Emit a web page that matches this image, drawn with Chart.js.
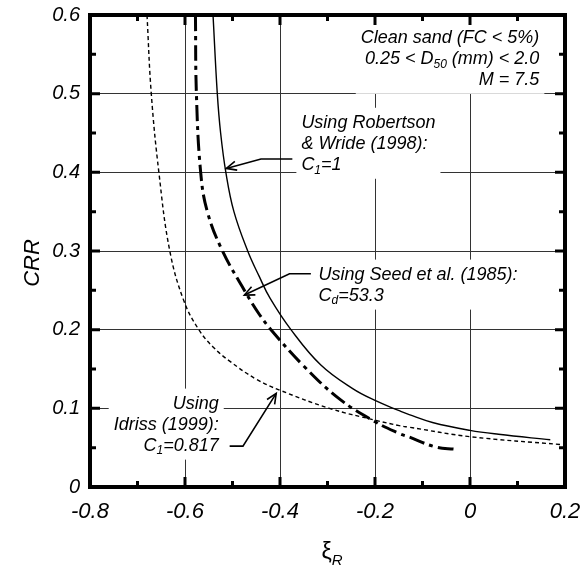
<!DOCTYPE html>
<html>
<head>
<meta charset="utf-8">
<script src="https://cdn.jsdelivr.net/npm/chart.js@4.4.1/dist/chart.umd.min.js"></script>
<style>
  html, body { margin: 0; padding: 0; background: #fff; }
  canvas { display: block; }
</style>
</head>
<body>
<canvas id="crr-chart" width="584" height="572"></canvas>
<script>
// Curve readings (xi_R, CRR)
const robertsonXi  = [-0.541, -0.532, -0.525, -0.514, -0.497, -0.468, -0.444, -0.421, -0.377, -0.314, -0.247, -0.200, -0.149, -0.128, -0.079, 0.000, 0.060, 0.169];
const robertsonCrr = [ 0.600,  0.500,  0.450,  0.400,  0.350,  0.300,  0.268,  0.240,  0.200,  0.155,  0.125,  0.110,  0.097,  0.092,  0.082, 0.072, 0.067, 0.060];

const seedXi  = [-0.578, -0.576, -0.567, -0.553, -0.521, -0.473, -0.443, -0.419, -0.352, -0.275, -0.200, -0.149, -0.128, -0.073, -0.031];
const seedCrr = [ 0.600,  0.500,  0.400,  0.350,  0.300,  0.248,  0.219,  0.200,  0.155,  0.112,  0.083,  0.068,  0.0635, 0.051,  0.048];

const idrissXi  = [-0.680, -0.671, -0.655, -0.632, -0.602, -0.571, -0.541, -0.506, -0.450, -0.400, -0.296, -0.200, -0.149, -0.128, 0.000, 0.190];
const idrissCrr = [ 0.600,  0.500,  0.400,  0.300,  0.236,  0.200,  0.178,  0.160,  0.137,  0.123,  0.100,  0.085,  0.078,  0.076, 0.064, 0.054];

const xTicks = [-0.8, -0.6, -0.4, -0.2, 0, 0.2];
const yTicks = [0, 0.1, 0.2, 0.3, 0.4, 0.5, 0.6];

const FONT = "'Liberation Sans', Arial, Helvetica, sans-serif";

const toPoints = (xs, ys) => xs.map((x, i) => ({ x: x, y: ys[i] }));

// text blocks: [text, isSubscript] runs per line
const notes = [
    { x: 0.146, y: 0.571, align: 'right', toTop: true, lines: [
        [['Clean sand (FC < 5%)']],
        [['0.25 < D'], ['50', 1], [' (mm) < 2.0']],
        [['M = 7.5']]
    ]},
    { x: -0.355, y: 0.463, align: 'left', lines: [
        [['Using Robertson']],
        [['& Wride (1998):']],
        [['C'], ['1', 1], ['=1']]
    ]},
    { x: -0.319, y: 0.270, align: 'left', lines: [
        [['Using Seed et al. (1985):']],
        [['C'], ['d', 1], ['=53.3']]
    ]},
    { x: -0.529, y: 0.106, align: 'right', lines: [
        [['Using']],
        [['Idriss (1999):']],
        [['C'], ['1', 1], ['=0.817']]
    ]}
];

// arrow paths, last point is the tip
const arrows = [
    [[-0.374, 0.417], [-0.440, 0.417], [-0.513, 0.405]],
    [[-0.335, 0.271], [-0.380, 0.271], [-0.475, 0.244]],
    [[-0.506, 0.052], [-0.478, 0.052], [-0.408, 0.119]]
];

function runWidth(ctx, runs, size) {
    let w = 0;
    runs.forEach(r => {
        ctx.font = 'italic ' + (r[1] ? Math.round(size * 0.68) : size) + 'px ' + FONT;
        w += ctx.measureText(r[0]).width;
    });
    return w;
}

function drawRuns(ctx, runs, x, y, size) {
    runs.forEach(r => {
        const s = r[1] ? Math.round(size * 0.68) : size;
        ctx.font = 'italic ' + s + 'px ' + FONT;
        ctx.fillText(r[0], x, r[1] ? y + size * 0.3 : y);
        x += ctx.measureText(r[0]).width;
    });
}

// drop the automatic label padding so the plot area sits where the layout says
const noPad = s => { s.paddingLeft = 0; s.paddingRight = 0; s.paddingTop = 0; s.paddingBottom = 0; };

const annotate = {
    id: 'annotate',
    beforeDatasetsDraw(chart) {
        const ctx = chart.ctx;
        const xs = chart.scales.x, ys = chart.scales.y;
        const area = chart.chartArea;
        const size = 18, lh = 21;
        ctx.save();
        ctx.textBaseline = 'middle';
        ctx.fillStyle = '#000';
        notes.forEach(n => {
            const ax = xs.getPixelForValue(n.x);
            const ay = ys.getPixelForValue(n.y);
            const widths = n.lines.map(l => runWidth(ctx, l, size));
            const maxW = Math.max(...widths);
            const left = n.align === 'right' ? ax - maxW : ax;
            let top = ay - 11 - 4;
            if (n.toTop) top = area.top;
            const bottom = ay + (n.lines.length - 1) * lh + 14;
            ctx.fillStyle = '#fff';
            ctx.fillRect(left - 5, top, maxW + 10, bottom - top);
            ctx.fillStyle = '#000';
            n.lines.forEach((l, i) => {
                const lx = n.align === 'right' ? ax - widths[i] : ax;
                drawRuns(ctx, l, lx, ay + i * lh, size);
            });
        });
        ctx.restore();
    },
    afterDatasetsDraw(chart) {
        const ctx = chart.ctx;
        const xs = chart.scales.x, ys = chart.scales.y;
        const area = chart.chartArea;
        ctx.save();

        // arrows
        ctx.strokeStyle = '#000';
        ctx.lineWidth = 1.6;
        arrows.forEach(a => {
            const pts = a.map(p => [xs.getPixelForValue(p[0]), ys.getPixelForValue(p[1])]);
            ctx.beginPath();
            pts.forEach((p, i) => i ? ctx.lineTo(p[0], p[1]) : ctx.moveTo(p[0], p[1]));
            ctx.stroke();
            const tip = pts[pts.length - 1], prev = pts[pts.length - 2];
            const ang = Math.atan2(tip[1] - prev[1], tip[0] - prev[0]);
            ctx.beginPath();
            ctx.moveTo(tip[0] - 11 * Math.cos(ang - 0.42), tip[1] - 11 * Math.sin(ang - 0.42));
            ctx.lineTo(tip[0], tip[1]);
            ctx.lineTo(tip[0] - 11 * Math.cos(ang + 0.42), tip[1] - 11 * Math.sin(ang + 0.42));
            ctx.stroke();
        });

        // inward tick marks on all four sides
        ctx.lineWidth = 3;
        ctx.lineCap = 'butt';
        for (let v = -0.8; v <= 0.2001; v += 0.1) {
            const px = xs.getPixelForValue(v);
            const major = Math.abs(Math.round(v * 10)) % 2 === 0;
            const len = major ? 10 : 6;
            ctx.beginPath();
            ctx.moveTo(px, area.bottom); ctx.lineTo(px, area.bottom - len);
            ctx.moveTo(px, area.top); ctx.lineTo(px, area.top + len);
            ctx.stroke();
        }
        for (let v = 0; v <= 0.6001; v += 0.05) {
            const py = ys.getPixelForValue(v);
            const major = Math.abs(Math.round(v * 20)) % 2 === 0;
            const len = major ? 10 : 6;
            ctx.beginPath();
            ctx.moveTo(area.left, py); ctx.lineTo(area.left + len, py);
            ctx.moveTo(area.right, py); ctx.lineTo(area.right - len, py);
            ctx.stroke();
        }

        // frame
        ctx.lineWidth = 4;
        ctx.strokeRect(area.left, area.top, area.right - area.left, area.bottom - area.top);

        // axis titles
        ctx.fillStyle = '#000';
        ctx.textAlign = 'center';
        ctx.textBaseline = 'middle';
        ctx.save();
        ctx.translate(33, 263);
        ctx.rotate(-Math.PI / 2);
        ctx.font = 'italic 22px ' + FONT;
        ctx.fillText('CRR', 0, 0);
        ctx.restore();

        ctx.textAlign = 'left';
        ctx.font = '23px ' + FONT;
        const xiW = ctx.measureText('ξ').width;
        ctx.font = 'italic 15px ' + FONT;
        const rW = ctx.measureText('R').width;
        const cx = 332 - (xiW + rW) / 2;
        ctx.font = '23px ' + FONT;
        ctx.fillText('ξ', cx, 553);
        ctx.font = 'italic 15px ' + FONT;
        ctx.fillText('R', cx + xiW, 561);
        ctx.restore();
    }
};

const lineDefaults = { borderColor: '#000', pointRadius: 0, tension: 0.4, fill: false };

new Chart(document.getElementById('crr-chart'), {
    type: 'line',
    data: {
        datasets: [
            Object.assign({
                label: 'Robertson & Wride (1998)',
                data: toPoints(robertsonXi, robertsonCrr),
                borderWidth: 1.4
            }, lineDefaults),
            Object.assign({
                label: 'Seed et al. (1985)',
                data: toPoints(seedXi, seedCrr),
                borderWidth: 3,
                borderDash: [16, 5, 4, 5]
            }, lineDefaults),
            Object.assign({
                label: 'Idriss (1999)',
                data: toPoints(idrissXi, idrissCrr),
                borderWidth: 1.4,
                borderDash: [4, 3]
            }, lineDefaults)
        ]
    },
    options: {
        responsive: false,
        animation: false,
        layout: { padding: { top: 15, right: 19, left: 0, bottom: 0 } },
        plugins: {
            legend: { display: false },
            tooltip: { enabled: false }
        },
        scales: {
            x: {
                type: 'linear',
                min: -0.8,
                max: 0.2,
                afterFit: s => { s.height = 85; noPad(s); },
                afterBuildTicks: s => { s.ticks = xTicks.map(v => ({ value: v })); },
                border: { display: false },
                grid: { color: '#333', lineWidth: 1, drawTicks: false },
                ticks: {
                    color: '#000',
                    padding: 12,
                    maxRotation: 0,
                    font: { family: FONT, size: 22, style: 'italic' },
                    callback: v => (Math.abs(v) < 1e-9 ? '0' : Number(v.toFixed(1)).toString())
                }
            },
            y: {
                type: 'linear',
                min: 0,
                max: 0.6,
                afterFit: s => { s.width = 90; noPad(s); },
                afterBuildTicks: s => { s.ticks = yTicks.map(v => ({ value: v })); },
                border: { display: false },
                grid: { color: '#333', lineWidth: 1, drawTicks: false },
                ticks: {
                    color: '#000',
                    padding: 10,
                    font: { family: FONT, size: 20, style: 'italic' },
                    callback: v => (Math.abs(v) < 1e-9 ? '0' : Number(v.toFixed(1)).toString())
                }
            }
        }
    },
    plugins: [annotate]
});
</script>
</body>
</html>
